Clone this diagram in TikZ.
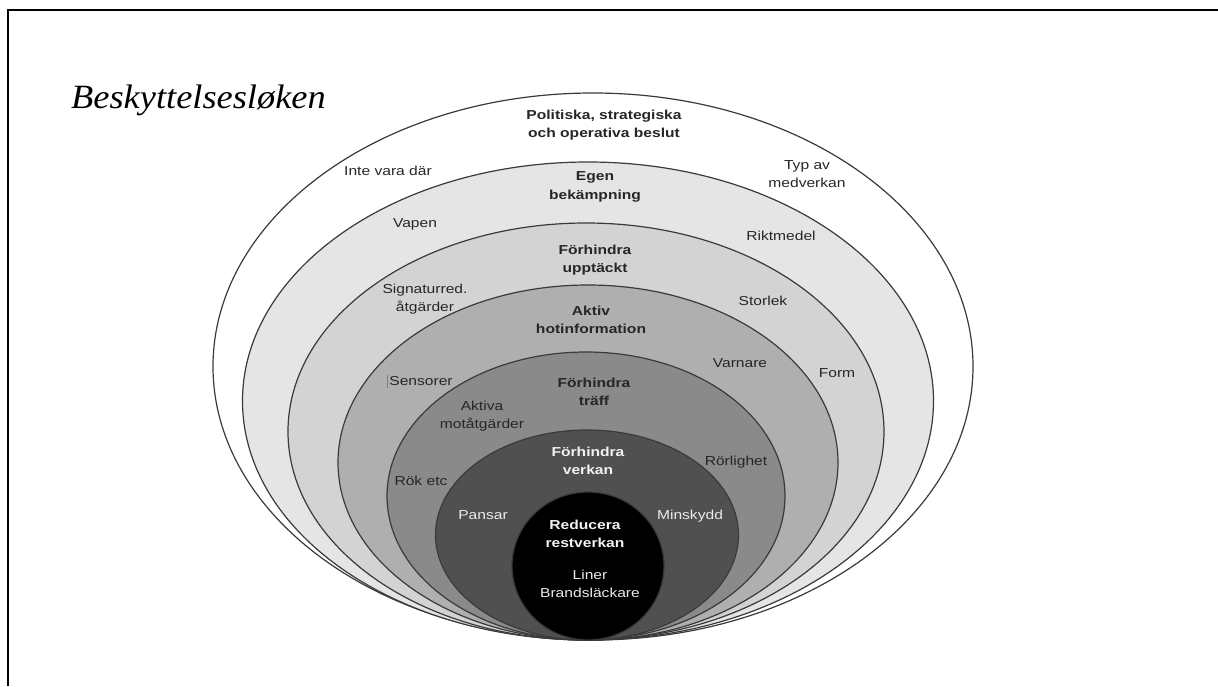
\documentclass[tikz,border=0pt]{standalone}
\usepackage{fontspec}
\setmainfont{Liberation Sans}
\newfontfamily\labfont[FakeStretch=1.2]{Liberation Sans}
\newfontfamily\titlefont[FakeStretch=1.07]{Liberation Serif}
\definecolor{ringA}{HTML}{FFFFFF}
\definecolor{ringB}{HTML}{E5E5E5}
\definecolor{ringC}{HTML}{D3D3D3}
\definecolor{ringD}{HTML}{AFAFAF}
\definecolor{ringE}{HTML}{8A8A8A}
\definecolor{ringF}{HTML}{505050}
\definecolor{ringG}{HTML}{000000}
\definecolor{edge}{HTML}{3A3A3A}
\definecolor{ink}{HTML}{262626}
\tikzset{
  ring/.style={draw=edge, line width=1.2pt},
  lab/.style={font=\labfont\fontsize{13}{18.5}\selectfont, align=center, inner sep=0pt, text=ink},
  blab/.style={lab, font=\labfont\bfseries\fontsize{13}{18.5}\selectfont},
  wlab/.style={lab, text=white!92!black},
  wblab/.style={blab, text=white!95!black},
}
\begin{document}
\begin{tikzpicture}[x=1pt,y=-1pt]
\useasboundingbox (0,0) rectangle (1218,686);
% frame
\draw[line width=2.6pt] (8,686) -- (8,10) -- (1218,10);
% title
\node[anchor=base west, inner sep=0pt] (title) at (71,108)
  {\titlefont\itshape\fontsize{34}{40}\selectfont Beskyttelsesløken};
% rings
\fill[ringA] (593,366.5) ellipse [x radius=380, y radius=273.5];
\draw[ring, fill=ringA] (593,366.5) ellipse [x radius=380, y radius=273.5];
\draw[ring, fill=ringB] (588,401) ellipse [x radius=345.5, y radius=239];
\draw[ring, fill=ringC] (586,431.5) ellipse [x radius=298, y radius=208.5];
\draw[ring, fill=ringD] (588,462.5) ellipse [x radius=250, y radius=177.5];
\draw[ring, fill=ringE] (586,496) ellipse [x radius=199, y radius=144];
\draw[ring, fill=ringF] (587,535) ellipse [x radius=151.5, y radius=105];
\draw[ring, fill=ringG] (588,566) ellipse [x radius=76, y radius=74];
% labels
\node[blab] (pol) at (604,125) {Politiska, strategiska\\och operativa beslut};
\node[lab] (inte) at (388,171) {Inte vara där};
\node[lab] (typ) at (807,174) {Typ av\\medverkan};
\node[blab] (egen) at (595,187) {Egen\\bekämpning};
\node[lab] (vapen) at (415,224) {Vapen};
\node[lab] (rikt) at (781,236) {Riktmedel};
\node[blab] (upp) at (595,260) {Förhindra\\upptäckt};
\node[lab] (sign) at (425,299) {Signaturred.\\åtgärder};
\node[lab] (stor) at (763,301) {Storlek};
\node[blab] (aktiv) at (591,320) {Aktiv\\hotinformation};
\node[lab] (varn) at (740,363) {Varnare};
\node[lab] (form) at (837,373) {Form};
\node[lab] (sens) at (421,381) {Sensorer};
\draw[gray, line width=0.6pt] ([xshift=-2pt,yshift=1pt]sens.north west) -- ([xshift=-2pt,yshift=-2pt]sens.south west);
\node[blab] (traff) at (594,392) {Förhindra\\träff};
\node[lab] (akt) at (482,416) {Aktiva\\motåtgärder};
\node[wblab] (verk) at (588,461) {Förhindra\\verkan};
\node[lab] (rorl) at (736,462) {Rörlighet};
\node[lab] (rok) at (421,481) {Rök etc};
\node[wlab] (pans) at (483,515) {Pansar};
\node[wlab] (mins) at (690,516) {Minskydd};
\node[wblab] (red) at (585,534) {Reducera\\restverkan};
\node[wlab] (liner) at (590,584) {Liner\\Brandsläckare};
\end{tikzpicture}
\end{document}
